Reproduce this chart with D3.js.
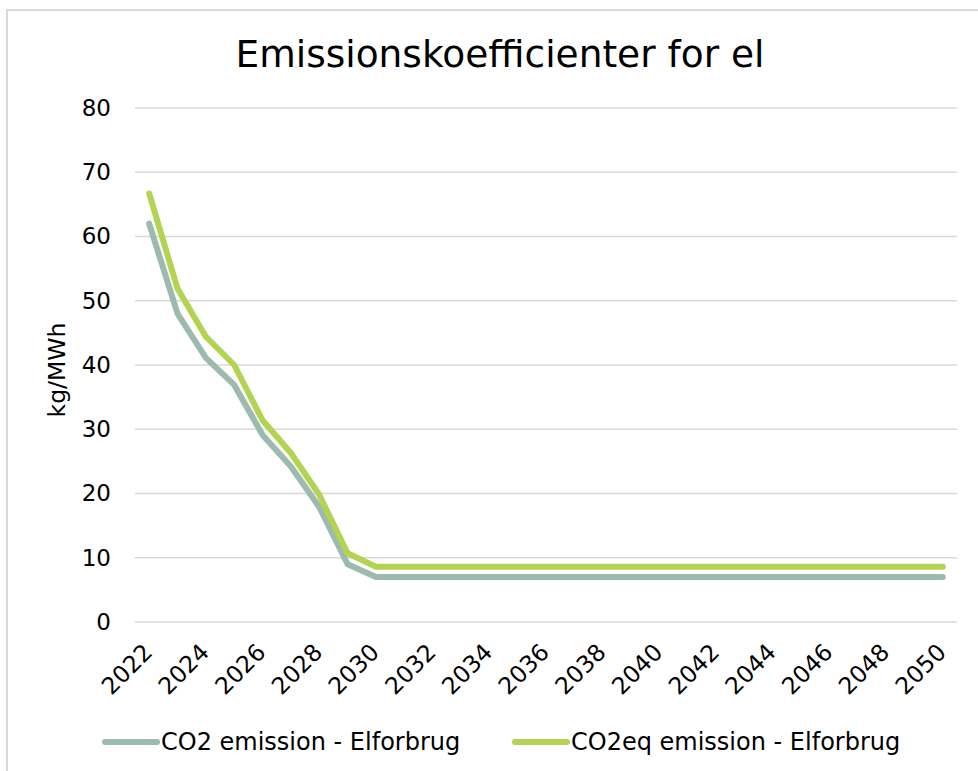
<!DOCTYPE html>
<html>
<head>
<meta charset="utf-8">
<script src="https://cdn.jsdelivr.net/npm/d3@7"></script>
<style>
  body { margin: 0; background: #fff; }
  text { font-family: "DejaVu Sans", Verdana, sans-serif; fill: #000; }
</style>
</head>
<body>
<div id="container"></div>
<script>
let w = 978;
let h = 771;

// DATA
let years = d3.range(2022, 2051);
let tickYears = years.filter(function(d){ return (d - 2022) % 2 == 0; });
let co2 = [62, 48, 41.1, 36.9, 29.1, 24.2, 17.9, 9.0, 7.0, 7, 7, 7, 7, 7, 7, 7, 7, 7, 7, 7, 7, 7, 7, 7, 7, 7, 7, 7, 7];
let co2eq = [66.7, 51.9, 44.4, 40.0, 31.4, 26.3, 19.8, 10.7, 8.6, 8.6, 8.6, 8.6, 8.6, 8.6, 8.6, 8.6, 8.6, 8.6, 8.6, 8.6, 8.6, 8.6, 8.6, 8.6, 8.6, 8.6, 8.6, 8.6, 8.6];
let seriesNames = ["CO2 emission - Elforbrug", "CO2eq emission - Elforbrug"];
let seriesColors = ["#9dbaaf", "#b3d453"];
let yTicks = [0, 10, 20, 30, 40, 50, 60, 70, 80];

let viz = d3.select("#container").append("svg")
    .attr("width", w)
    .attr("height", h);

// chart border
viz.append("rect")
    .attr("x", 7)
    .attr("y", 10)
    .attr("width", w + 20)
    .attr("height", h + 20)
    .attr("fill", "white")
    .attr("stroke", "#d9d9d9")
    .attr("stroke-width", 2);

// SCALES
let xScale = d3.scaleBand().domain(years).range([135, 957]);
let yScale = d3.scaleLinear().domain([0, 80]).range([622, 108]);
function xc(year){ return xScale(year) + xScale.bandwidth() / 2; }

// gridlines
viz.selectAll(".grid").data(yTicks).enter()
  .append("line")
    .attr("class", "grid")
    .attr("x1", 135)
    .attr("x2", 957)
    .attr("y1", function(d){ return yScale(d); })
    .attr("y2", function(d){ return yScale(d); })
    .attr("stroke", "#d9d9d9")
    .attr("stroke-width", 1.5);

// y axis
let yAxis = d3.axisLeft(yScale).tickValues(yTicks).tickSize(0).tickPadding(0);
let yG = viz.append("g").attr("transform", "translate(111,0)").call(yAxis);
yG.select(".domain").remove();
yG.selectAll("text")
    .style("font-family", "DejaVu Sans, Verdana, sans-serif")
    .style("font-size", "23px")
    .attr("fill", "#000");

// x axis
let xAxis = d3.axisBottom(xScale).tickValues(tickYears).tickSize(0).tickPadding(0);
let xG = viz.append("g").attr("transform", "translate(0,622)").call(xAxis);
xG.select(".domain").remove();
xG.selectAll("text")
    .style("font-family", "DejaVu Sans, Verdana, sans-serif")
    .style("font-size", "23.5px")
    .attr("fill", "#000")
    .attr("text-anchor", "end")
    .attr("dy", "0.7em")
    .attr("transform", "translate(-7,20) rotate(-45)");

// lines
let lineMaker = d3.line()
    .x(function(d, i){ return xc(years[i]); })
    .y(function(d){ return yScale(d); });

let allSeries = [co2, co2eq];
viz.selectAll(".series").data(allSeries).enter()
  .append("path")
    .attr("class", "series")
    .attr("d", lineMaker)
    .attr("fill", "none")
    .attr("stroke", function(d, i){ return seriesColors[i]; })
    .attr("stroke-width", 6)
    .attr("stroke-linejoin", "round")
    .attr("stroke-linecap", "round");

// title
viz.append("text")
    .attr("x", 500)
    .attr("y", 67)
    .attr("text-anchor", "middle")
    .style("font-size", "37.5px")
    .text("Emissionskoefficienter for el");

// y title
viz.append("text")
    .attr("transform", "translate(65,370) rotate(-90)")
    .attr("text-anchor", "middle")
    .style("font-size", "23.5px")
    .text("kg/MWh");

// legend
let legendX = [105, 515];
let legend = viz.selectAll(".legend").data(seriesNames).enter()
  .append("g")
    .attr("class", "legend")
    .attr("transform", function(d, i){ return "translate(" + legendX[i] + ",742)"; });
legend.append("line")
    .attr("x1", 0).attr("x2", 52)
    .attr("stroke", function(d, i){ return seriesColors[i]; })
    .attr("stroke-width", 6)
    .attr("stroke-linecap", "round");
legend.append("text")
    .attr("x", 56)
    .attr("dy", "0.35em")
    .style("font-size", "24px")
    .text(function(d){ return d; });
</script>
</body>
</html>
